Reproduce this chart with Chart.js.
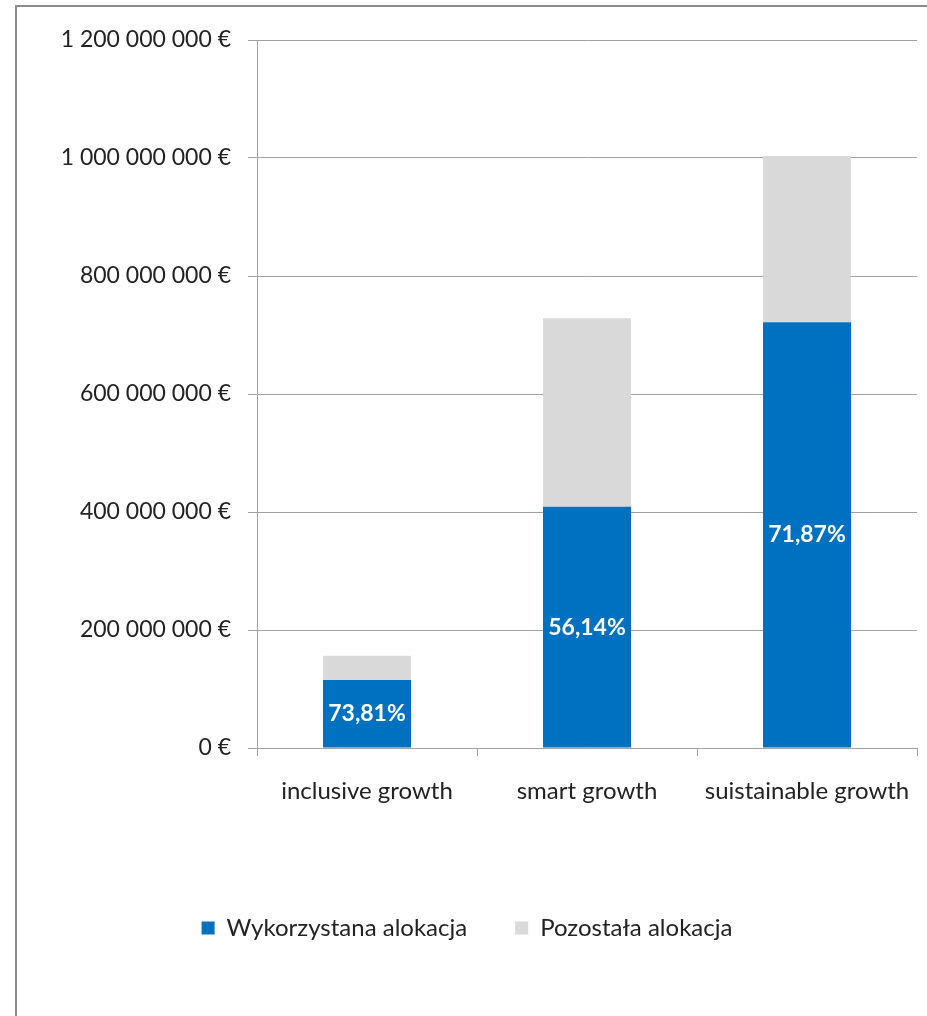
<!DOCTYPE html>
<html>
<head>
<meta charset="utf-8">
<script src="https://cdn.jsdelivr.net/npm/chart.js@4/dist/chart.umd.min.js"></script>
<style>
	html, body { margin: 0; padding: 0; background: #fff; }
	#frame {
		position: absolute;
		left: 15px;
		top: 5px;
		width: 910px;
		height: 1009px;
		border-left: 2px solid #8c8c8c;
		border-top: 2px solid #8c8c8c;
	}
	canvas { display: block; }
</style>
</head>
<body>
<div id="frame"><canvas id="chart" width="910" height="1009"></canvas></div>
<script>
// categories and series (EUR)
const categories = ['inclusive growth', 'smart growth', 'suistainable growth']
const usedAllocation = [115400000, 409000000, 721600000]
const remainingAllocation = [40800000, 319400000, 281800000]
const usedShareLabels = ['73,81%', '56,14%', '71,87%']
const seriesNames = ['Wykorzystana alokacja', 'Pozostała alokacja']

const FONT = 'Lato, "Open Sans", sans-serif'

function formatEuro(v) {
	return String(Math.round(v)).replace(/\B(?=(\d{3})+(?!\d))/g, ' ') + ' €'
}

// writes the share in the middle of each blue bar
const shareLabels = {
	id: 'shareLabels',
	afterDatasetsDraw(chart) {
		const ctx = chart.ctx
		const meta = chart.getDatasetMeta(0)
		ctx.save()
		ctx.fillStyle = '#ffffff'
		ctx.font = 'bold 23px ' + FONT
		ctx.textAlign = 'center'
		ctx.textBaseline = 'middle'
		meta.data.forEach((bar, i) => {
			const p = bar.getProps(['x', 'y', 'base'], true)
			ctx.fillText(usedShareLabels[i], p.x, (p.y + p.base) / 2)
		})
		ctx.restore()
	},
}

new Chart(document.getElementById('chart'), {
	type: 'bar',
	data: {
		labels: categories,
		datasets: [
			{
				label: seriesNames[0],
				data: usedAllocation,
				backgroundColor: '#0070c0',
				barPercentage: 0.4,
				categoryPercentage: 1,
			},
			{
				label: seriesNames[1],
				data: remainingAllocation,
				backgroundColor: '#d9d9d9',
				barPercentage: 0.4,
				categoryPercentage: 1,
			},
		],
	},
	options: {
		responsive: false,
		animation: false,
		layout: {
			padding: { top: 33, right: 10, bottom: 66, left: 0 },
		},
		plugins: {
			legend: {
				position: 'bottom',
				labels: {
					font: { family: FONT, size: 24 },
					color: '#222',
					boxWidth: 13,
					boxHeight: 13,
					padding: 48,
				},
			},
			title: { display: false },
			tooltip: { enabled: false },
		},
		scales: {
			x: {
				stacked: true,
				afterFit(scale) {
					scale.height = 120
					// labels fit inside the plot, no extra side room
					scale.paddingLeft = 0
					scale.paddingRight = 0
				},
				grid: {
					offset: true,
					drawOnChartArea: false,
					tickLength: 8,
					color: '#a0a0a0',
				},
				border: { color: '#a0a0a0' },
				ticks: {
					font: { family: FONT, size: 24 },
					color: '#222',
					padding: 21,
				},
			},
			y: {
				stacked: true,
				min: 0,
				max: 1200000000,
				afterFit(scale) {
					scale.width = 240
					scale.paddingTop = 0
					scale.paddingBottom = 0
				},
				grid: {
					color: '#a0a0a0',
					tickLength: 9,
				},
				border: { color: '#a0a0a0' },
				ticks: {
					stepSize: 200000000,
					font: { family: FONT, size: 23 },
					color: '#222',
					padding: 17,
					callback: v => formatEuro(v),
				},
			},
		},
	},
	plugins: [shareLabels],
})
</script>
</body>
</html>
